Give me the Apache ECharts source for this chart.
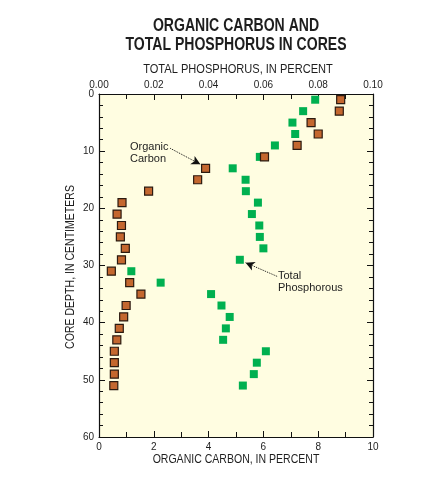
<!DOCTYPE html>
<html lang="en">
<head>
    <meta charset="UTF-8">
    <title>Organic carbon and total phosphorus in cores</title>
    <style>
        * { padding: 0; margin: 0; }
        html, body { height: 100%; width: 100%; background: #fff; }
        #chart { width: 435px; height: 487px; }
    </style>
</head>
<body>
    <div id="chart"></div>
    <script src="https://cdn.jsdelivr.net/npm/echarts@6/dist/echarts.min.js"></script>
    <script type="text/javascript">
        // depth of each sample, in centimeters
        const depths = [1, 3, 5, 7, 9, 11, 13, 15, 17, 19, 21, 23, 25, 27, 29, 31, 33, 35, 37, 39, 41, 43, 45, 47, 49, 51];
        // organic carbon, percent
        const carbon = [8.82, 8.77, 7.74, 8.0, 7.23, 6.04, 3.89, 3.6, 1.81, 0.84, 0.66, 0.82, 0.78, 0.96, 0.82, 0.45, 1.12, 1.53, 0.99, 0.9, 0.74, 0.65, 0.56, 0.56, 0.56, 0.54];
        // total phosphorus, percent
        const phosphorus = [0.0789, 0.0745, 0.0706, 0.0716, 0.0642, 0.0587, 0.0488, 0.0535, 0.0536, 0.058, 0.0558, 0.0585, 0.0587, 0.06, 0.0514, 0.0118, 0.0225, 0.0409, 0.0447, 0.0477, 0.0463, 0.0453, 0.0609, 0.0576, 0.0565, 0.0525];

        const font = '"Liberation Sans", Arial, sans-serif';
        const ink = '#1e1e1e';

        const chart = echarts.init(document.getElementById('chart'));

        const tickStyle = { color: '#111', width: 1 };
        const baseAxis = {
            axisLine: { show: true, onZero: false, lineStyle: { color: '#111', width: 1.2 } },
            axisTick: { show: true, inside: true, length: 6, lineStyle: tickStyle },
            minorTick: { show: true, length: 5, lineStyle: tickStyle },
            splitLine: { show: false },
            axisLabel: { color: ink, fontFamily: font, fontSize: 10, margin: 5 }
        };

        // condensed-looking text: squeeze horizontally
        function label(text, x, y, size, weight, sx, rot) {
            return {
                type: 'text', x: x, y: y, rotation: rot || 0, scaleX: sx,
                style: {
                    text: text, fill: ink, align: 'center', verticalAlign: 'middle',
                    font: weight + ' ' + size + 'px ' + font, lineHeight: size + 2
                }
            };
        }

        const option = {
            backgroundColor: '#fff',
            animation: false,
            grid: { left: 99, top: 94, right: 62, bottom: 50, show: true, backgroundColor: '#FFFDE1', borderWidth: 0 },
            xAxis: [
                Object.assign({}, baseAxis, {
                    type: 'value', position: 'bottom', min: 0, max: 10, interval: 2,
                    minorTick: Object.assign({}, baseAxis.minorTick, { splitNumber: 2 })
                }),
                Object.assign({}, baseAxis, {
                    type: 'value', position: 'top', min: 0, max: 0.1, interval: 0.02,
                    minorTick: Object.assign({}, baseAxis.minorTick, { splitNumber: 2 }),
                    axisLabel: Object.assign({}, baseAxis.axisLabel, { formatter: v => v.toFixed(2), margin: 4 })
                })
            ],
            yAxis: [
                Object.assign({}, baseAxis, {
                    type: 'value', position: 'left', inverse: true, min: 0, max: 60, interval: 10,
                    minorTick: Object.assign({}, baseAxis.minorTick, { splitNumber: 5, length: 4 })
                }),
                Object.assign({}, baseAxis, {
                    type: 'value', position: 'right', inverse: true, min: 0, max: 60, interval: 10,
                    minorTick: Object.assign({}, baseAxis.minorTick, { splitNumber: 5, length: 4 }),
                    axisLabel: { show: false }
                })
            ],
            series: [
                {
                    name: 'Total Phosphorus',
                    type: 'scatter',
                    xAxisIndex: 1,
                    symbol: 'rect',
                    symbolSize: 8,
                    itemStyle: { color: '#00B050', opacity: 1 },
                    data: depths.map((d, i) => [phosphorus[i], d])
                },
                {
                    name: 'Organic Carbon',
                    type: 'scatter',
                    xAxisIndex: 0,
                    symbol: 'rect',
                    symbolSize: 8,
                    itemStyle: { color: '#C4672F', borderColor: '#2b1a10', borderWidth: 1.2, opacity: 1 },
                    data: depths.map((d, i) => [carbon[i], d]),
                    markLine: {
                        silent: true,
                        animation: false,
                        symbol: ['none', 'arrow'],
                        symbolSize: [7, 9],
                        label: { show: false },
                        lineStyle: { color: '#111', width: 1, type: 'dotted' },
                        data: [
                            [{ coord: [2.6, 9.5] }, { coord: [3.7, 12.3] }],
                            [{ coord: [6.5, 31.9] }, { coord: [5.35, 29.5] }]
                        ]
                    }
                }
            ],
            graphic: [
                label('ORGANIC CARBON AND', 236, 26, 18, 'bold', 0.78),
                label('TOTAL PHOSPHORUS IN CORES', 236, 45, 18, 'bold', 0.78),
                label('TOTAL PHOSPHORUS, IN PERCENT', 238, 69, 13.5, 'normal', 0.82),
                label('ORGANIC CARBON, IN PERCENT', 236, 459, 13.5, 'normal', 0.78),
                label('CORE DEPTH, IN CENTIMETERS', 70, 267, 13.5, 'normal', 0.78, Math.PI / 2),
                {
                    type: 'text', left: 130, top: 141,
                    style: { text: 'Organic\nCarbon', font: '11px ' + font, fill: ink, lineHeight: 12 }
                },
                {
                    type: 'text', left: 278, top: 270,
                    style: { text: 'Total\nPhosphorous', font: '11px ' + font, fill: ink, lineHeight: 12 }
                }
            ]
        };

        chart.setOption(option);
    </script>
</body>
</html>
